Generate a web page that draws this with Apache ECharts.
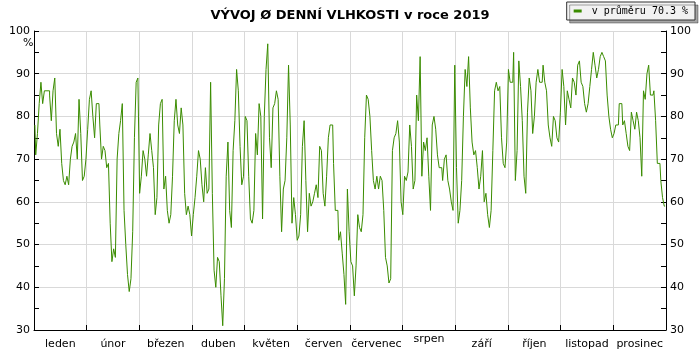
<!DOCTYPE html>
<html>
<head>
<meta charset="utf-8">
<script src="https://cdn.jsdelivr.net/npm/echarts@6/dist/echarts.min.js"></script>
<style>html,body{margin:0;padding:0;background:#fff;}#c{width:700px;height:350px;}</style>
</head>
<body>
<div id="c"></div>
<script>
const months = ['leden','únor','březen','duben','květen','červen','červenec','srpen','září','říjen','listopad','prosinec'];
const seriesName = 'v průměru 70.3 %';
const titleText = 'VÝVOJ Ø DENNÍ VLHKOSTI v roce 2019';
const unitLabel = '%';
// daily average relative humidity, 1 Jan .. 31 Dec 2019
const humidity = [
 78,71,76,83,88,83,86,86,86,85,
 79,86,89,76,73,77,69,65,64,66,
 64,70,73,74,76,70,84,76,65,66,
 70,77,84,86,80,75,83,83,78,70,
 73,72,68,69,55,46,49,47,70,76,
 79,83,58,50,43,39,42,53,75,88,
 89,62,66,72,70,66,71,76,72,68,
 57,61,78,83,84,63,66,58,55,57,
 66,79,84,78,76,82,78,62,57,59,
 57,52,57,61,66,72,70,64,60,68,
 62,63,88,62,44,40,47,46,38,31,
 42,66,74,58,54,72,79,91,86,73,
 64,66,80,79,66,56,55,58,76,71,
 83,80,56,80,91,97,75,68,82,83,
 86,84,66,53,63,65,75,92,78,55,
 61,57,51,52,57,73,79,65,53,62,
 59,60,62,64,61,73,72,62,59,66,
 75,78,78,69,58,58,51,53,48,43,
 36,63,53,46,45,38,45,57,54,53,
 57,75,85,84,80,72,65,63,66,63,
 66,65,58,47,45,41,42,72,75,76,
 79,74,60,57,66,65,67,78,73,63,
 65,85,79,94,66,74,72,75,66,58,
 78,80,77,71,68,68,65,70,71,65,
 63,60,58,92,68,55,58,65,80,91,
 87,94,82,74,71,72,68,63,66,72,
 60,62,57,54,58,72,86,88,86,87,
 75,69,68,74,91,88,88,95,65,72,
 93,87,79,66,62,81,89,86,76,80,
 88,91,88,88,92,88,86,78,75,73,
 80,79,75,74,81,91,87,78,86,84,
 82,89,88,85,92,93,88,87,83,81,
 83,87,91,95,92,89,91,94,95,94,
 93,85,80,77,75,76,78,78,83,83,
 78,79,76,73,72,81,79,77,81,79,
 75,66,86,84,90,92,85,85,86,79,
 69,69,65,61,59
];
const yMin = 30, yMax = 100, yStep = 10;

const FONT = 'DejaVu Sans';
const GREEN = '#3a8c00';
const GRID = '#d9d9d9';
const nDays = humidity.length;
const pts = humidity.map((v, i) => [i + 0.5, v]);

function yAx(pos) {
  return {
    type: 'value', position: pos, min: yMin, max: yMax, interval: yStep,
    axisLine: { show: true, lineStyle: { color: '#000', width: 1 } },
    axisTick: { show: true, inside: true, length: 5, lineStyle: { color: '#000' } },
    minorTick: { show: true, splitNumber: 2, length: 5, lineStyle: { color: '#000' } },
    axisLabel: { margin: 4, fontSize: 11, fontFamily: FONT, color: '#000' },
    splitLine: { show: pos === 'left', lineStyle: { color: GRID, width: 1 } }
  };
}

const chart = echarts.init(document.getElementById('c'), null, { renderer: 'canvas' });
chart.setOption({
  animation: false,
  backgroundColor: '#fff',
  title: {
    text: titleText, left: 'center', top: 4,
    textStyle: { fontFamily: FONT, fontWeight: 'bold', fontSize: 13, color: '#000' }
  },
  legend: {
    data: [seriesName], right: 5, top: 2,
    icon: 'rect', itemWidth: 8, itemHeight: 3, itemGap: 5,
    textStyle: { fontFamily: 'DejaVu Sans Mono', fontSize: 10, color: '#000', padding: [0, 0, 0, 5] },
    backgroundColor: '#f2f2f2', borderColor: '#333', borderWidth: 1,
    padding: [4, 7, 4, 7],
    shadowColor: 'rgba(0,0,0,0.35)', shadowOffsetX: 3, shadowOffsetY: 3, shadowBlur: 0
  },
  grid: { left: 34, right: 34, top: 31, bottom: 19, containLabel: false },
  xAxis: [
    {
      type: 'value', position: 'bottom', min: 0, max: nDays, interval: nDays / 12,
      axisLine: { show: true, lineStyle: { color: '#000' } },
      axisTick: { show: true, inside: true, length: 5, lineStyle: { color: '#000' } },
      axisLabel: { show: false },
      splitLine: { show: true, lineStyle: { color: GRID, width: 1 } }
    },
    {
      type: 'category', position: 'bottom', offset: 0, data: months, boundaryGap: true,
      axisLine: { show: false }, axisTick: { show: false }, splitLine: { show: false },
      axisLabel: {
        interval: 0, margin: 4, fontSize: 11, fontFamily: FONT, color: '#000',
        formatter: v => (v === 'srpen' ? '{s|' + v + '}' : '{n|' + v + '}'),
        rich: {
          n: { padding: [5, 0, 0, 0], fontSize: 11, fontFamily: FONT, color: '#000' },
          s: { padding: [0, 0, 5, 0], fontSize: 11, fontFamily: FONT, color: '#000' }
        }
      }
    }
  ],
  yAxis: [yAx('left'), yAx('right')],
  graphic: [{
    type: 'text', left: 23, top: 38,
    style: { text: unitLabel, font: '11px "DejaVu Sans"', fill: '#000' }
  }],
  series: [{
    name: seriesName, type: 'line', xAxisIndex: 0, yAxisIndex: 0,
    data: pts, showSymbol: false, step: 'middle',
    lineStyle: { color: GREEN, width: 1 }, itemStyle: { color: GREEN }
  }]
});
</script>
</body>
</html>
